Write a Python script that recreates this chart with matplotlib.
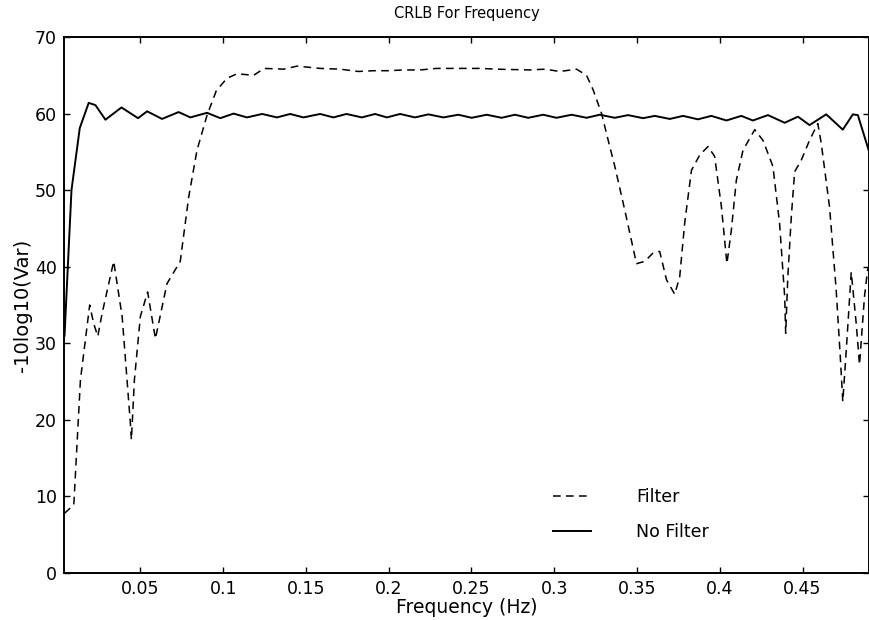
import numpy as np
import matplotlib
matplotlib.use("Agg")
import matplotlib.pyplot as plt

# "No Filter" curve (solid), vertices
nofilt_f = [0.0042, 0.0084, 0.0134, 0.0188, 0.0229, 0.0289, 0.0386, 0.0486, 0.0541,
            0.0631, 0.0731, 0.0802, 0.0903, 0.0983, 0.1063, 0.1144, 0.1236, 0.1325,
            0.1405, 0.1485, 0.1586, 0.1666, 0.1745, 0.1838, 0.1918, 0.1989, 0.2069,
            0.2159, 0.2240, 0.2330, 0.2421, 0.2501, 0.2592, 0.2682, 0.2763, 0.2843,
            0.2933, 0.3014, 0.3105, 0.3195, 0.3275, 0.3366, 0.3446, 0.3537, 0.3607,
            0.3698, 0.3778, 0.3868, 0.3949, 0.4040, 0.4130, 0.4200, 0.4291, 0.4392,
            0.4472, 0.4542, 0.4643, 0.4743, 0.4804, 0.4834, 0.4904]
nofilt_v = [31.0, 50.0, 58.1, 61.4, 61.1, 59.2, 60.8, 59.4, 60.3,
            59.3, 60.2, 59.5, 60.1, 59.4, 60.0, 59.5, 59.95, 59.5,
            59.95, 59.5, 59.95, 59.5, 59.95, 59.5, 59.95, 59.5, 59.95,
            59.5, 59.9, 59.5, 59.85, 59.45, 59.85, 59.45, 59.85, 59.45,
            59.85, 59.45, 59.85, 59.45, 59.85, 59.45, 59.8, 59.4, 59.7,
            59.3, 59.7, 59.25, 59.7, 59.1, 59.7, 59.1, 59.8, 58.8,
            59.6, 58.5, 59.9, 57.9, 59.9, 59.8, 54.9]

# "Filter" curve (dashed)
filt_f = [0.0042, 0.0098, 0.0138, 0.0194, 0.0218, 0.0243, 0.0269, 0.0339, 0.0390,
          0.0440, 0.0446, 0.0464, 0.0500, 0.0544, 0.0591, 0.0661, 0.0741, 0.0792,
          0.0842, 0.0903, 0.0959, 0.1023, 0.1084, 0.1184, 0.1248, 0.1365, 0.1447,
          0.1586, 0.1707, 0.1817, 0.1908, 0.1998, 0.2089, 0.2189, 0.2290, 0.2381,
          0.2471, 0.2551, 0.2652, 0.2853, 0.2944, 0.3034, 0.3135, 0.3195, 0.3235,
          0.3286, 0.3326, 0.3366, 0.3426, 0.3497, 0.3547, 0.3597, 0.3637, 0.3678,
          0.3728, 0.3758, 0.3788, 0.3829, 0.3879, 0.3929, 0.3969, 0.4010, 0.4043,
          0.4070, 0.4100, 0.4140, 0.4211, 0.4261, 0.4321, 0.4361, 0.4392, 0.4398,
          0.4411, 0.4432, 0.4452, 0.4492, 0.4542, 0.4592, 0.4613, 0.4663, 0.4703,
          0.4728, 0.4743, 0.4764, 0.4794, 0.4824, 0.4844, 0.4874, 0.4894]
filt_v = [7.8, 8.9, 25.2, 35.0, 32.6, 30.9, 33.9, 40.7, 33.5,
          19.5, 17.4, 25.2, 33.5, 36.7, 30.6, 37.8, 40.7, 49.1,
          55.2, 59.8, 63.0, 64.6, 65.2, 65.0, 65.9, 65.8, 66.2,
          65.9, 65.8, 65.5, 65.6, 65.6, 65.7, 65.7, 65.9, 65.9,
          65.9, 65.9, 65.8, 65.7, 65.8, 65.5, 65.8, 65.0, 63.1,
          60.0, 56.5, 53.1, 47.4, 40.4, 40.7, 41.8, 42.0, 38.3,
          36.4, 38.7, 45.7, 52.6, 54.6, 55.7, 54.4, 47.8, 40.4,
          44.8, 51.3, 55.2, 57.9, 56.5, 53.1, 45.7, 36.1, 31.3,
          38.7, 46.5, 52.4, 53.9, 56.5, 58.7, 56.1, 47.8, 37.0,
          28.2, 22.4, 29.1, 39.3, 32.6, 27.2, 36.1, 39.8]

xticks = [0.05, 0.1, 0.15, 0.2, 0.25, 0.3, 0.35, 0.4, 0.45]
xtick_labels = ["0.05", "0.1", "0.15", "0.2", "0.25", "0.3", "0.35", "0.4", "0.45"]
yticks = [0, 10, 20, 30, 40, 50, 60, 70]

plt.rcParams["font.family"] = ["DejaVu Sans"]

fig = plt.figure(figsize=(8.7, 6.2), dpi=100)
ax = fig.add_axes([0.0736, 0.0758, 0.925, 0.8645])

ax.plot(filt_f, filt_v, color="black", linewidth=1.1, linestyle=(0, (5, 3.5)), label="Filter")
ax.plot(nofilt_f, nofilt_v, color="black", linewidth=1.4, label="No Filter")

ax.set_xlim(0.0039, 0.490)
ax.set_ylim(0, 70)
ax.set_xticks(xticks)
ax.set_xticklabels(xtick_labels)
ax.set_yticks(yticks)
ax.tick_params(direction="in", top=True, right=True, length=4, width=1,
               labelsize=12.5, pad=5)
for sp in ax.spines.values():
    sp.set_linewidth(1.4)

ax.set_title("CRLB For Frequency", fontsize=10.5, pad=14)
ax.set_xlabel("Frequency (Hz)", fontsize=13.5, labelpad=0)
ax.set_ylabel("-10log10(Var)", fontsize=14, labelpad=2)

ax.legend(loc="lower left", bbox_to_anchor=(0.588, 0.03), frameon=False,
          fontsize=12.5, handlelength=2.2, handletextpad=2.6, labelspacing=1.0)

fig.savefig("out.png", dpi=100)
